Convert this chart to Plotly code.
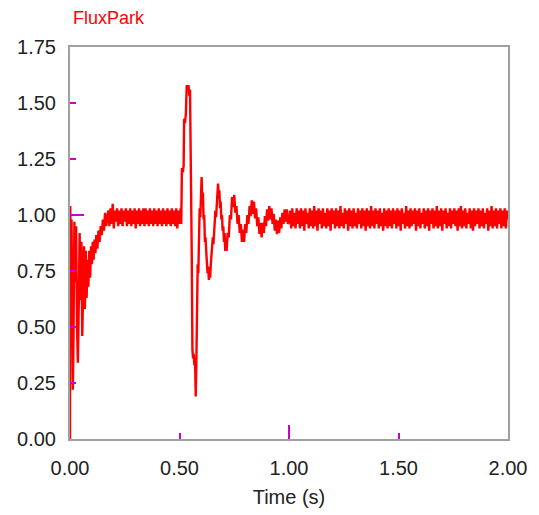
import numpy as np
import plotly.graph_objects as go

# ---- data ----
# start-up transient (explicit samples)
t_start = [0.000, 0.001, 0.004, 0.007, 0.010, 0.013, 0.016, 0.020, 0.024, 0.028,
           0.032, 0.036, 0.040, 0.044, 0.048, 0.052, 0.056, 0.060, 0.064, 0.068,
           0.072, 0.076, 0.080, 0.084, 0.088, 0.092, 0.096, 0.100, 0.104, 0.108,
           0.112, 0.116, 0.120, 0.125, 0.130, 0.135, 0.140, 0.145, 0.150, 0.155,
           0.160, 0.165]
v_start = [0.00, 1.04, 0.82, 0.98, 0.62, 0.22, 0.45, 0.97, 0.70, 0.95,
           0.50, 0.34, 0.60, 0.92, 0.62, 0.88, 0.46, 0.66, 0.86, 0.58,
           0.84, 0.63, 0.80, 0.68, 0.84, 0.72, 0.86, 0.78, 0.88, 0.80,
           0.89, 0.83, 0.91, 0.85, 0.93, 0.88, 0.95, 0.91, 0.98, 0.93,
           1.01, 0.95]

# first steady band, 0.170 .. 0.505 s (5 ms samples)
v_band1 = [0.98, 1.02, 0.95, 1.03, 0.96, 1.05, 0.94, 1.02, 0.97, 1.03,
           0.95, 1.02, 0.96, 1.03, 0.95, 1.02, 0.97, 1.03, 0.95, 1.02,
           0.96, 1.03, 0.95, 1.02, 0.96, 1.03, 0.94, 1.02, 0.96, 1.03,
           0.95, 1.02, 0.96, 1.03, 0.95, 1.03, 0.96, 1.02, 0.95, 1.03,
           0.96, 1.02, 0.95, 1.03, 0.96, 1.02, 0.95, 1.03, 0.96, 1.02,
           0.95, 1.03, 0.96, 1.02, 0.95, 1.03, 0.96, 1.02, 0.95, 1.03,
           0.96, 1.02, 0.95, 1.03, 0.94, 1.02, 0.96, 1.03]
t_band1 = np.linspace(0.170, 0.505, len(v_band1))

# load-step transient (explicit samples)
t_step = [0.508, 0.511, 0.515, 0.519, 0.521, 0.525, 0.529, 0.533, 0.537, 0.541,
          0.545, 0.548, 0.551, 0.553, 0.556, 0.559, 0.562, 0.565, 0.568, 0.571,
          0.574, 0.577, 0.580, 0.583, 0.586, 0.589, 0.592, 0.595, 0.598, 0.601,
          0.604, 0.607, 0.610, 0.613, 0.616, 0.619, 0.622, 0.625, 0.628, 0.631,
          0.634, 0.637, 0.640, 0.643, 0.646, 0.649, 0.652, 0.655, 0.658, 0.661,
          0.664, 0.667, 0.670, 0.673, 0.676, 0.679, 0.682, 0.685, 0.688, 0.691,
          0.694, 0.697, 0.700, 0.703, 0.706, 0.709, 0.712, 0.715]
v_step = [0.96, 1.21, 1.19, 1.22, 1.43, 1.41, 1.45, 1.58, 1.55, 1.58,
          1.53, 1.56, 1.28, 0.84, 0.82, 0.40, 0.36, 0.38, 0.33, 0.36,
          0.19, 0.34, 0.70, 0.78, 0.74, 0.95, 1.03, 0.99, 1.12, 1.17,
          1.06, 1.10, 0.98, 1.00, 0.88, 0.90, 0.84, 0.80, 0.74, 0.77,
          0.71, 0.74, 0.72, 0.78, 0.82, 0.86, 0.90, 0.87, 0.93, 0.97,
          1.02, 0.99, 1.07, 1.10, 1.14, 1.09, 1.11, 1.03, 1.06, 0.98,
          1.00, 0.93, 0.95, 0.88, 0.92, 0.84, 0.87, 0.84]

# decaying oscillation, 0.720 .. 0.995 s (5 ms samples)
v_decay = [0.92, 0.90, 1.00, 0.98, 1.08, 1.035, 1.09, 1.01, 1.04, 0.96,
           1.00, 0.92, 0.96, 0.88, 0.935, 0.88, 0.96, 0.92, 1.00, 0.96,
           1.04, 0.995, 1.065, 1.005, 1.06, 0.985, 1.03, 0.95, 0.99, 0.915,
           0.965, 0.90, 0.965, 0.92, 0.995, 0.95, 1.025, 0.975, 1.04, 0.98,
           1.03, 0.96, 1.005, 0.93, 0.98, 0.915, 0.975, 0.92, 0.99, 0.94,
           1.01, 0.96, 1.025, 0.97, 1.025, 0.96]
t_decay = np.linspace(0.720, 0.995, len(v_decay))

# second steady band, 1.000 .. 2.000 s (5 ms samples)
v_band2 = [0.97, 1.02, 0.94, 1.03, 0.95, 1.01, 0.94, 1.03, 0.96, 1.02,
           0.94, 1.03, 0.95, 1.02, 0.93, 1.03, 0.96, 1.01, 0.94, 1.03,
           0.95, 1.02, 0.94, 1.04, 0.95, 1.02, 0.93, 1.03, 0.96, 1.02,
           0.94, 1.03, 0.95, 1.01, 0.94, 1.03, 0.95, 1.02, 0.93, 1.03,
           0.96, 1.02, 0.94, 1.03, 0.95, 1.02, 0.94, 1.04, 0.95, 1.01,
           0.94, 1.03, 0.96, 1.02, 0.93, 1.03, 0.95, 1.02, 0.94, 1.03,
           0.95, 1.01, 0.94, 1.03, 0.96, 1.02, 0.94, 1.03, 0.95, 1.02,
           0.93, 1.03, 0.95, 1.02, 0.94, 1.04, 0.95, 1.02, 0.94, 1.03,
           0.96, 1.02, 0.94, 1.03, 0.95, 1.01, 0.93, 1.03, 0.95, 1.02,
           0.94, 1.03, 0.95, 1.02, 0.94, 1.03, 0.96, 1.02, 0.94, 1.03,
           0.95, 1.02, 0.93, 1.03, 0.96, 1.01, 0.94, 1.04, 0.95, 1.02,
           0.94, 1.03, 0.95, 1.02, 0.96, 1.03, 0.93, 1.02, 0.95, 1.03,
           0.94, 1.01, 0.96, 1.03, 0.94, 1.02, 0.95, 1.03, 0.93, 1.02,
           0.96, 1.03, 0.94, 1.02, 0.95, 1.04, 0.94, 1.02, 0.95, 1.03,
           0.93, 1.02, 0.96, 1.03, 0.94, 1.01, 0.95, 1.03, 0.94, 1.02,
           0.96, 1.03, 0.95, 1.02, 0.93, 1.03, 0.95, 1.04, 0.94, 1.02,
           0.95, 1.03, 0.94, 1.01, 0.96, 1.03, 0.94, 1.02, 0.93, 1.03,
           0.95, 1.02, 0.96, 1.03, 0.94, 1.02, 0.95, 1.03, 0.94, 1.01,
           0.96, 1.03, 0.93, 1.02, 0.95, 1.04, 0.94, 1.02, 0.95, 1.03,
           0.94, 1.02, 0.96, 1.03, 0.94, 1.02, 0.95, 1.03, 0.94, 1.02,
           0.98]
t_band2 = np.linspace(1.000, 2.000, len(v_band2))

x_ticks = [0.0, 0.5, 1.0, 1.5, 2.0]
x_tick_labels = ["0.00", "0.50", "1.00", "1.50", "2.00"]
y_ticks = [0.0, 0.25, 0.5, 0.75, 1.0, 1.25, 1.5, 1.75]
y_tick_labels = ["0.00", "0.25", "0.50", "0.75", "1.00", "1.25", "1.50", "1.75"]

t_all = np.concatenate([t_start, t_band1, t_step, t_decay, t_band2])
v_all = np.concatenate([v_start, v_band1, v_step, v_decay, v_band2])

RED = "#ff0000"
MAG = "#cc00cc"
GRAY = "#a0a0a0"
FONT = "Liberation Sans, Arial, sans-serif"

fig = go.Figure()
fig.add_trace(go.Scatter(x=t_all, y=v_all, mode="lines",
                         line=dict(color=RED, width=2.4), showlegend=False,
                         hoverinfo="skip"))
# invisible trace on the overlay axes (for the long tick marks)
fig.add_trace(go.Scatter(x=[0, 2], y=[0, 1.75], xaxis="x2", yaxis="y2",
                         mode="markers", marker=dict(opacity=0),
                         showlegend=False, hoverinfo="skip"))

fig.update_layout(
    width=539, height=515,
    margin=dict(l=70, r=31, t=47, b=76),
    paper_bgcolor="white", plot_bgcolor="white",
    font=dict(family=FONT, size=20, color="#222222"),
    title=dict(text="FluxPark", x=73 / 539, xanchor="left",
               y=1 - 18 / 515, yanchor="middle",
               font=dict(family=FONT, size=18, color=RED)),
    xaxis=dict(range=[0, 2], tickvals=x_ticks, ticktext=x_tick_labels,
               ticks="inside", ticklen=6, tickwidth=2, tickcolor=MAG,
               showline=True, linecolor=GRAY, linewidth=2, mirror=True,
               showgrid=False, zeroline=False, ticklabelstandoff=10,
               automargin=False,
               title=dict(text="Time (s)", standoff=12,
                          font=dict(family=FONT, size=20, color="#222222"))),
    yaxis=dict(range=[0, 1.75], tickvals=y_ticks, ticktext=y_tick_labels,
               ticks="inside", ticklen=6, tickwidth=2, tickcolor=MAG,
               showline=True, linecolor=GRAY, linewidth=2, mirror=True,
               showgrid=False, zeroline=False, ticklabelstandoff=8,
               automargin=False),
    xaxis2=dict(range=[0, 2], overlaying="x", anchor="y", side="bottom",
                tickvals=[1.0, 1.997], ticks="inside", ticklen=14, tickwidth=2,
                tickcolor=MAG, showticklabels=False, showline=False,
                showgrid=False, zeroline=False),
    yaxis2=dict(range=[0, 1.75], overlaying="y", anchor="x", side="left",
                tickvals=[1.0], ticks="inside", ticklen=14, tickwidth=2,
                tickcolor=MAG, showticklabels=False, showline=False,
                showgrid=False, zeroline=False),
)

fig.write_html("out.html")
